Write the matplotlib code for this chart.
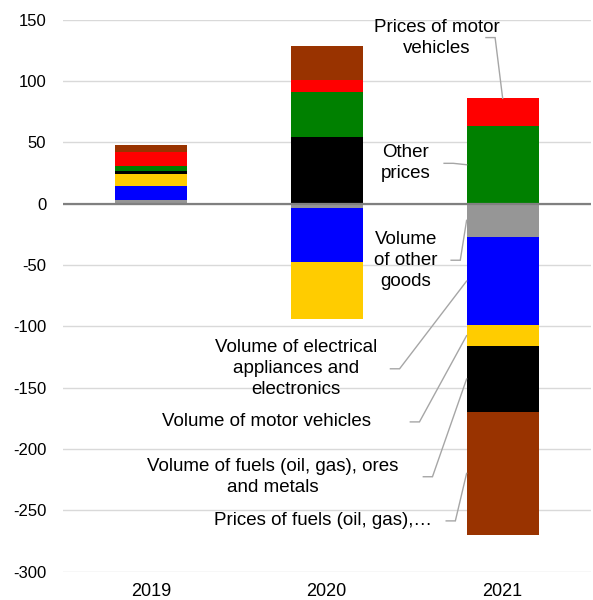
import matplotlib.pyplot as plt
import numpy as np

plt.rcParams['font.family'] = ['Liberation Sans', 'DejaVu Sans']
plt.rcParams['axes.unicode_minus'] = False

years = ['2019', '2020', '2021']

# series in stacking order
series_names = [
    'Volume of other goods',
    'Volume of electrical appliances and electronics',
    'Volume of motor vehicles',
    'Volume of fuels (oil, gas), ores and metals',
    'Other prices',
    'Prices of motor vehicles',
    'Prices of fuels (oil, gas),...',
]
vol_other = [2.8, -3.7, -27.0]
vol_electrical = [11.4, -44.0, -72.0]
vol_motor = [9.7, -46.0, -17.0]
vol_fuels = [3.0, 54.6, -53.7]
other_prices = [3.8, 36.6, 63.7]
prices_motor = [11.6, 10.1, 22.3]
prices_fuels = [5.5, 27.1, -100.2]

colors = ['#969696', '#0000ff', '#ffcc00', '#000000', '#008000', '#ff0000', '#993300']

data = np.array([vol_other, vol_electrical, vol_motor, vol_fuels,
                 other_prices, prices_motor, prices_fuels])

fig = plt.figure(figsize=(5.93, 6.0), dpi=100)
ax = fig.add_axes([0.106, 0.047, 0.89, 0.92])

x = np.arange(len(years))
width = 0.41
pos_base = np.zeros(len(years))
neg_base = np.zeros(len(years))
bottoms = []
for vals, c in zip(data, colors):
    vals = np.array(vals)
    b = np.where(vals >= 0, pos_base, neg_base)
    ax.bar(x, vals, width, bottom=b, color=c, zorder=3)
    bottoms.append(b)
    pos_base = pos_base + np.clip(vals, 0, None)
    neg_base = neg_base + np.clip(vals, None, 0)

ax.set_xlim(-0.5, 2.5)
ax.set_ylim(-300, 150)
ax.set_yticks(np.arange(-300, 151, 50))
ax.set_xticks(x)
ax.set_xticklabels(years, fontsize=13)
ax.tick_params(axis='y', labelsize=12, length=0, pad=12)
ax.tick_params(axis='x', length=0, pad=8)
ax.grid(axis='y', color='#d9d9d9', lw=1, zorder=0)
ax.axhline(0, color='#808080', lw=1.6, zorder=4)
for s in ax.spines.values():
    s.set_visible(False)

# labels for the 2021 bar with elbow leader lines
i = 2
edge = x[i] - width / 2
labels = [
    # (series index, text, text x, text y, leader start x, target at top?)
    (5, 'Prices of motor\nvehicles', 1.625, 135.5, 1.905, True),
    (4, 'Other\nprices', 1.45, 33, 1.667, False),
    (0, 'Volume\nof other\ngoods', 1.45, -46, 1.707, False),
    (1, 'Volume of electrical\nappliances and\nelectronics', 0.825, -134.5, 1.362, False),
    (2, 'Volume of motor vehicles', 0.66, -177.8, 1.475, False),
    (3, 'Volume of fuels (oil, gas), ores\nand metals', 0.693, -222.5, 1.549, False),
    (6, 'Prices of fuels (oil, gas),\u2026', 0.98, -258.5, 1.679, False),
]
for k, txt, tx, ty, lx, top in labels:
    ax.text(tx, ty, txt, ha='center', va='center', fontsize=13.5,
            linespacing=1.3, zorder=5)
    v = data[k][i]
    b = bottoms[k][i]
    if top:
        tgt = (x[i], b + v)
    else:
        tgt = (edge, b + v / 2)
    ax.plot([lx, lx + 0.052, tgt[0]], [ty, ty, tgt[1]], color='#a6a6a6',
            lw=1, zorder=5, solid_joinstyle='miter')

fig.savefig('out.png', dpi=100)
